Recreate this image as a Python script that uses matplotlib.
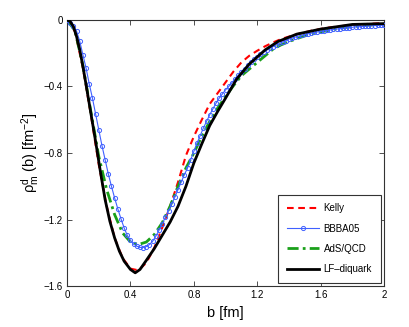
import matplotlib
matplotlib.use("Agg")
import matplotlib.pyplot as plt
import numpy as np

plt.rcParams['font.family'] = ['Liberation Sans', 'DejaVu Sans']
plt.rcParams['mathtext.default'] = 'regular'

# ---- data ----
x_ticks = [0, 0.4, 0.8, 1.2, 1.6, 2]
x_ticklabels = ['0', '0.4', '0.8', '1.2', '1.6', '2']
y_ticks = [0, -0.4, -0.8, -1.2, -1.6]
y_ticklabels = ['0', '\u22120.4', '\u22120.8', '\u22121.2', '\u22121.6']

series_names = ['Kelly', 'BBBA05', 'AdS/QCD', 'LF\u2013diquark']

b_kelly = [0.00, 0.05, 0.10, 0.15, 0.20, 0.25, 0.30, 0.35, 0.40, 0.45, 0.50, 0.55,
           0.60, 0.65, 0.70, 0.75, 0.80, 0.85, 0.90, 0.95, 1.00, 1.05, 1.10, 1.15,
           1.20, 1.25, 1.30, 1.35, 1.40, 1.45, 1.50, 1.55, 1.60, 1.65, 1.70, 1.75,
           1.80, 1.85, 1.90, 1.95, 2.00]
rho_kelly = [0, -0.07, -0.29, -0.57, -0.87, -1.12, -1.31, -1.43, -1.495, -1.505, -1.46, -1.37,
             -1.25, -1.12, -0.975, -0.815, -0.70, -0.60, -0.505, -0.44, -0.375, -0.31, -0.255, -0.215,
             -0.185, -0.158, -0.135, -0.115, -0.10, -0.086, -0.074, -0.063, -0.054, -0.046, -0.04, -0.035,
             -0.03, -0.027, -0.024, -0.021, -0.019]

b_bbba = [0.00, 0.02, 0.04, 0.06, 0.08, 0.10, 0.12, 0.14, 0.16, 0.18, 0.20, 0.22, 0.24, 0.26,
          0.28, 0.30, 0.32, 0.34, 0.36, 0.38, 0.40, 0.42, 0.44, 0.46, 0.48, 0.50, 0.52, 0.54,
          0.56, 0.58, 0.60, 0.62, 0.64, 0.66, 0.68, 0.70, 0.72, 0.74, 0.76, 0.78, 0.80, 0.82,
          0.84, 0.86, 0.88, 0.90, 0.92, 0.94, 0.96, 0.98, 1.00, 1.02, 1.04, 1.06, 1.08, 1.10,
          1.12, 1.14, 1.16, 1.18, 1.20, 1.22, 1.24, 1.26, 1.28, 1.30, 1.32, 1.34, 1.36, 1.38,
          1.40, 1.42, 1.44, 1.46, 1.48, 1.50, 1.52, 1.54, 1.56, 1.58, 1.60, 1.62, 1.64, 1.66,
          1.68, 1.70, 1.72, 1.74, 1.76, 1.78, 1.80, 1.82, 1.84, 1.86, 1.88, 1.90, 1.92, 1.94,
          1.96, 1.98, 2.00]
rho_bbba = [0, -0.017, -0.036, -0.068, -0.128, -0.21, -0.29, -0.385, -0.47, -0.565, -0.66, -0.755, -0.84, -0.925,
            -1.00, -1.07, -1.135, -1.195, -1.25, -1.295, -1.325, -1.348, -1.36, -1.367, -1.368, -1.362, -1.35, -1.33,
            -1.30, -1.265, -1.225, -1.187, -1.148, -1.107, -1.065, -1.02, -0.975, -0.93, -0.89, -0.84, -0.79, -0.74,
            -0.695, -0.65, -0.61, -0.57, -0.535, -0.50, -0.47, -0.445, -0.42, -0.40, -0.378, -0.355, -0.333, -0.312,
            -0.292, -0.272, -0.253, -0.236, -0.22, -0.206, -0.193, -0.181, -0.17, -0.16, -0.15, -0.141, -0.133, -0.125,
            -0.115, -0.109, -0.103, -0.097, -0.092, -0.087, -0.083, -0.079, -0.075, -0.072, -0.069, -0.066, -0.063, -0.06,
            -0.057, -0.055, -0.052, -0.05, -0.048, -0.046, -0.044, -0.042, -0.041, -0.039, -0.038, -0.036, -0.035, -0.034,
            -0.033, -0.032, -0.031]

b_ads = [0.00, 0.05, 0.10, 0.15, 0.20, 0.25, 0.30, 0.35, 0.40, 0.45, 0.50, 0.55,
         0.60, 0.65, 0.70, 0.75, 0.80, 0.85, 0.90, 0.95, 1.00, 1.05, 1.10, 1.15,
         1.20, 1.25, 1.30, 1.35, 1.40, 1.45, 1.50, 1.55, 1.60, 1.65, 1.70, 1.75,
         1.80, 1.85, 1.90, 1.95, 2.00]
rho_ads = [0, -0.065, -0.275, -0.55, -0.82, -1.02, -1.17, -1.28, -1.335, -1.35, -1.335, -1.29,
           -1.22, -1.12, -1.00, -0.89, -0.80, -0.70, -0.61, -0.53, -0.46, -0.395, -0.335, -0.295,
           -0.255, -0.215, -0.175, -0.15, -0.13, -0.112, -0.096, -0.083, -0.072, -0.062, -0.053, -0.046,
           -0.04, -0.035, -0.031, -0.028, -0.025]

b_lf = [0.00, 0.02, 0.04, 0.06, 0.08, 0.10, 0.12, 0.15, 0.18, 0.21, 0.24, 0.27, 0.30, 0.33,
        0.36, 0.40, 0.43, 0.46, 0.50, 0.55, 0.60, 0.65, 0.70, 0.75, 0.80, 0.85, 0.90, 0.95,
        1.00, 1.07, 1.15, 1.25, 1.33, 1.45, 1.60, 1.80, 2.00]
rho_lf = [0, -0.01, -0.04, -0.10, -0.18, -0.28, -0.39, -0.56, -0.73, -0.91, -1.08, -1.21, -1.31, -1.39,
          -1.45, -1.50, -1.52, -1.50, -1.445, -1.375, -1.295, -1.215, -1.12, -1.00, -0.86, -0.745, -0.635, -0.55,
          -0.47, -0.355, -0.265, -0.18, -0.13, -0.085, -0.055, -0.027, -0.022]

# ---- figure ----
fig = plt.figure(figsize=(4.09, 3.27), dpi=100)
ax = fig.add_axes([0.164, 0.125, 0.775, 0.814])

ax.plot(b_kelly, rho_kelly, color='#ff0000', ls=(0, (3.2, 2.2)), lw=1.5, label=series_names[0], zorder=3)
ax.plot(b_bbba, rho_bbba, color='#4060ff', ls='-', lw=0.8, marker='o', ms=3.0, mfc='none',
        mec='#4060ff', mew=0.7, label=series_names[1], zorder=4)
ax.plot(b_ads, rho_ads, color='#1aa01a', ls=(0, (4, 1.5, 1, 1.5)), lw=2.0, label=series_names[2], zorder=3)
ax.plot(b_lf, rho_lf, color='black', ls='-', lw=2.0, label=series_names[3], zorder=5)

ax.set_xlim(0, 2)
ax.set_ylim(-1.6, 0)
ax.set_xticks(x_ticks)
ax.set_xticklabels(x_ticklabels)
ax.set_yticks(y_ticks)
ax.set_yticklabels(y_ticklabels)
ax.tick_params(direction='in', top=True, right=True, length=3.5, width=0.6,
               labelsize=7, colors='#333333', labelcolor='black', pad=3)
for s in ax.spines.values():
    s.set_color('#333333')
    s.set_linewidth(0.8)

ax.set_xlabel('b [fm]', fontsize=10.5, labelpad=4)
ax.set_ylabel(r'$\rho_m^d$ (b) [fm$^{-2}$]', fontsize=10.5, labelpad=2)

leg = ax.legend(loc='lower right', fontsize=7, frameon=True, fancybox=False,
                edgecolor='#333333', framealpha=1, handlelength=3.3, handletextpad=0.5,
                labelspacing=1.05, borderpad=0.9, borderaxespad=0.35)
leg.get_frame().set_linewidth(0.8)

fig.savefig('out.png', dpi=100)
